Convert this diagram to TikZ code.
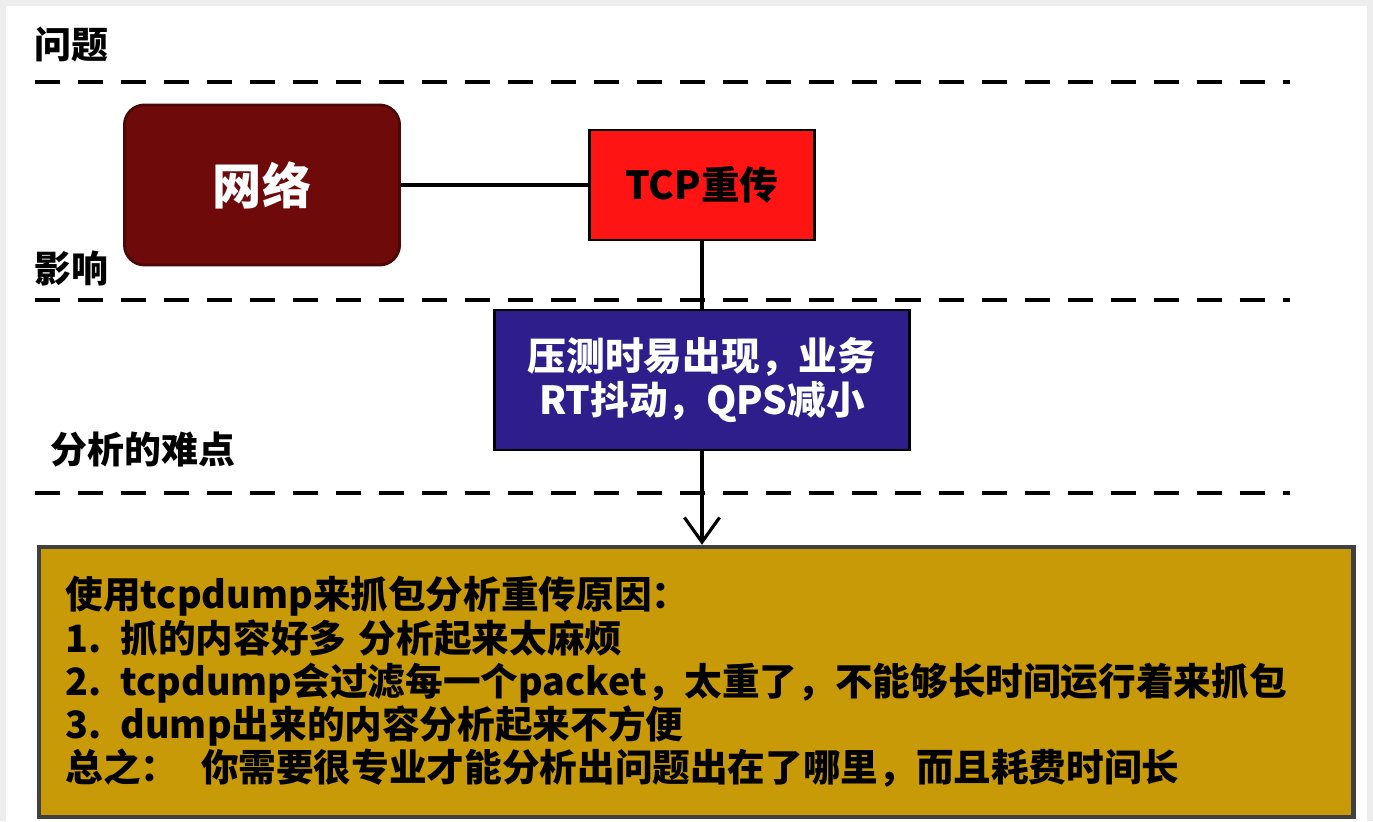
\documentclass[tikz,border=0pt]{standalone}
\usepackage{fontspec}
\usetikzlibrary{arrows.meta}
\setmainfont{Noto Sans CJK SC}
\definecolor{netred}{HTML}{6E0A0A}
\definecolor{tcpred}{HTML}{FF1414}
\definecolor{rtblue}{HTML}{2D1E8C}
\definecolor{pktgold}{HTML}{C99A08}
\DeclareRobustCommand\pktfont{\bfseries\fontsize{10.7}{12.3}\selectfont\lineskiplimit=-20pt\relax}
\tikzset{
  sep/.style = {line width = 1.4pt, dash pattern = on 0.25cm off 0.18cm},
  link/.style = {line width = 0.9pt},
  box/.style = {draw, line width = 0.8pt, font = \bfseries\fontsize{11}{12.3}\selectfont},
  stage/.style = {anchor = west, font = \bfseries\fontsize{10.5}{12}\selectfont}
}
\begin{document}
\begin{tikzpicture}[x = 0.01cm, y = -0.01cm]
	\useasboundingbox (0, 0) rectangle (1373, 821);
	\fill [black!7] (0, 0) rectangle (1373, 821);
	\fill [white] (6, 6) rectangle (1367, 821);
	\node [stage] (problem) at (22, 45 ) {问题};
	\node [stage] (effect) at (22, 268) {影响};
	\node [stage] (hard) at (38, 450) {分析的难点};
	\foreach \y in {82, 300, 493}
		\draw [sep] (35, \y) -- (1290, \y);
	\node [box, draw = netred!70!black, fill = netred, rounded corners = 0.2cm, text = white, minimum width = 2.75cm, minimum height = 1.6cm, font = \bfseries\fontsize{14}{16}\selectfont] (net) at (262, 185) {网络};
	\node [box, fill = tcpred, minimum width = 2.25cm, minimum height = 1.1cm] (tcp) at (702, 185) {TCP重传};
	\node [box, fill = rtblue, text = white, align = center, minimum width = 4.15cm, minimum height = 1.4cm] (rt) at (702, 380) {压测时易出现，业务\\RT抖动，QPS减小};
	\node [box, draw = black!75, line width = 1.2pt, fill = pktgold, align = left, text width = 12.6cm, inner xsep = 0.27cm, minimum height = 2.7cm, font = \pktfont] (why) at (696, 682) {使用tcpdump来抓包分析重传原因：\\1. 抓的内容好多 分析起来太麻烦\\2. tcpdump会过滤每一个packet，太重了，不能够长时间运行着来抓包\\3. dump出来的内容分析起来不方便\\总之：\hspace{0.6em}你需要很专业才能分析出问题出在了哪里，而且耗费时间长};
	\draw [link] (net) to (tcp);
	\draw [link] (tcp) to (rt);
	\draw [link, -{Straight Barb[length = 7pt, width = 10pt]}] (rt.south) to (rt.south |- why.north);
\end{tikzpicture}
\end{document}
